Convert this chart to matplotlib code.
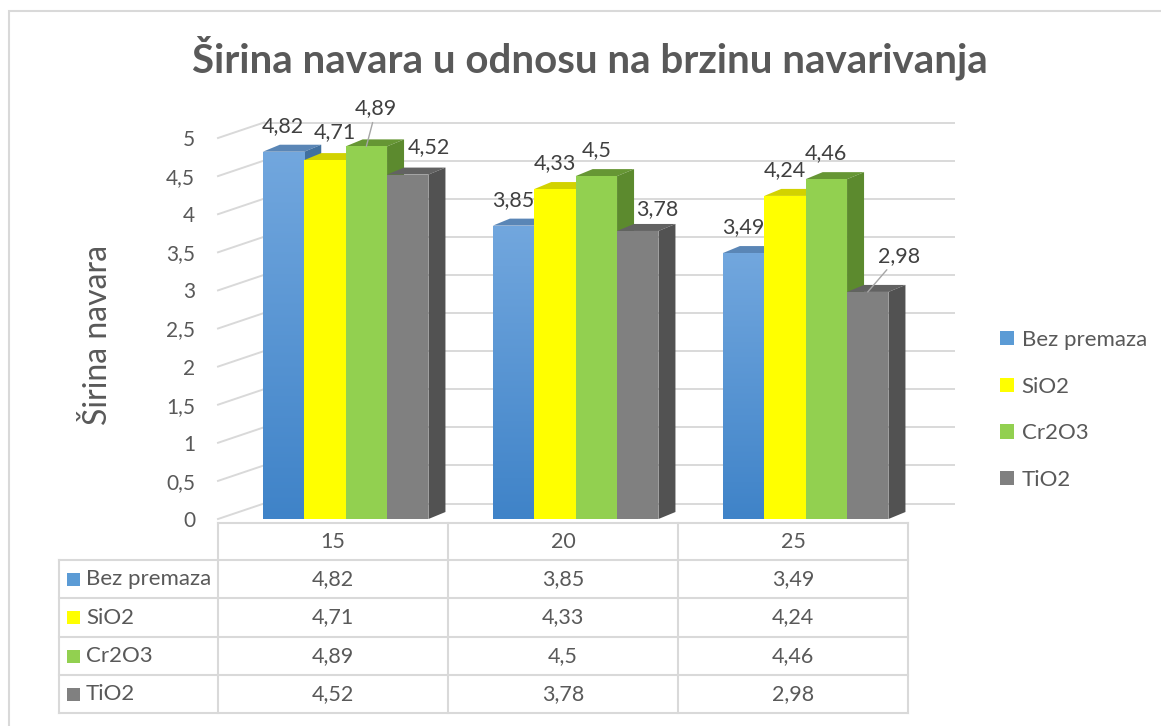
import numpy as np
import matplotlib.pyplot as plt
from matplotlib.patches import Polygon, Rectangle, Patch
from matplotlib import transforms

plt.rcParams['font.family'] = ['Lato', 'DejaVu Sans']

# podaci
brzine = ['15', '20', '25']
serije = ['Bez premaza', 'SiO2', 'Cr2O3', 'TiO2']
bez_premaza = [4.82, 3.85, 3.49]
sio2 = [4.71, 4.33, 4.24]
cr2o3 = [4.89, 4.50, 4.46]
tio2 = [4.52, 3.78, 2.98]
vrijednosti = [bez_premaza, sio2, cr2o3, tio2]
y_ticks = np.arange(0, 5.01, 0.5)

# boje: prednja strana, vrh, bok
boja = ['#5b9bd5', '#ffff00', '#92d050', '#808080']
boja_vrh = ['#5a86b6', '#d2d200', '#669634', '#626262']
boja_bok = ['#41709f', '#b8b800', '#5c8a2e', '#525252']
plava_gore, plava_dolje = '#72a7de', '#3f83c8'

TXT = '#595959'
LBL = '#404040'
GRID = '#d9d9d9'

# pomaci oznaka (px: desno, gore) u odnosu na sredinu vrha stupca
pomak_def = (0, 26)
pomak = {(0, 0): (-1, 26), (0, 1): (10, 28), (0, 2): (10, 38), (0, 3): (21, 27),
         (1, 3): (19, 22), (2, 3): (31, 36)}
s_linijom = {(0, 2), (2, 3)}

W, H = 1161, 726
fig = plt.figure(figsize=(W / 100, H / 100), dpi=100)


def fx(px):
    return px / W


def fy(py):
    return 1 - py / H


# okvir grafikona
fig.add_artist(Rectangle((fx(8.5), fy(740)), fx(1170) - fx(8.5), fy(11) - fy(740),
                         transform=fig.transFigure, fill=False, ec=GRID, lw=1.5))

ax = fig.add_axes([fx(218), fy(519), fx(908) - fx(218), fy(138) - fy(519)])
ax.set_xlim(-0.5, 2.5)
ax.set_ylim(0, 5)
for s in ax.spines.values():
    s.set_visible(False)
ax.set_xticks([])
ax.set_yticks(y_ticks, labels=[f'{t:g}'.replace('.', ',') for t in y_ticks])
ax.tick_params(axis='y', length=0, pad=16.5, labelsize=15, labelcolor=TXT)

# px -> jedinice podataka
pos = ax.get_position()
ux = 3 / (pos.width * W)
uy = 5 / (pos.height * H)
ddx, ddy = 17 * ux, 7 * uy      # dubina stupca
bdx, bdy = 46 * ux, 15.5 * uy   # dubina stražnjeg zida

# mreža na stražnjem i bočnom zidu
for v in y_ticks:
    ax.plot([-0.5 + bdx, 2.5 + bdx], [v + bdy] * 2, color=GRID, lw=1.4, zorder=1, clip_on=False)
    ax.plot([-0.5, -0.5 + bdx], [v, v + bdy], color=GRID, lw=1.4, zorder=1, clip_on=False)

x = np.arange(len(brzine))
w = 0.18
start = -0.305
grad = np.linspace(0, 1, 256).reshape(-1, 1)
cmap = plt.matplotlib.colors.LinearSegmentedColormap.from_list('pl', [plava_dolje, plava_gore])

for i, vals in enumerate(vrijednosti):
    left = x + start + i * w
    z = 10 + 2 * i
    bars = ax.bar(left, vals, width=w, align='edge', color=boja[i], lw=0, zorder=z + 1)
    for j, (b, v) in enumerate(zip(bars, vals)):
        x0, x1 = left[j], left[j] + w
        vrh = [(x0, v), (x1, v), (x1 + ddx, v + ddy), (x0 + ddx, v + ddy)]
        bok = [(x1, 0), (x1, v), (x1 + ddx, v + ddy), (x1 + ddx, ddy)]
        ax.add_patch(Polygon(vrh, closed=True, fc=boja_vrh[i], lw=0, zorder=z, clip_on=False))
        ax.add_patch(Polygon(bok, closed=True, fc=boja_bok[i], lw=0, zorder=z, clip_on=False))
        if i == 0:
            b.set_facecolor('none')
            im = ax.imshow(grad, extent=(x0, x1, 0, v), origin='lower', cmap=cmap,
                           aspect='auto', zorder=z + 1, interpolation='bilinear')
            im.set_clip_path(b)
        dx, dy = pomak.get((j, i), pomak_def)
        arrow = dict(arrowstyle='-', color='#a6a6a6', lw=1, shrinkA=1, shrinkB=0) if (j, i) in s_linijom else None
        ax.annotate(f'{v:g}'.replace('.', ','), xy=(x0 + w / 2, v), xytext=(dx, dy),
                    textcoords='offset pixels', ha='center', va='center', fontsize=15.5,
                    color=LBL, zorder=30, arrowprops=arrow, annotation_clip=False)

ax.set_xlim(-0.5, 2.5)
ax.set_ylim(0, 5)

# naslov i oznaka osi
fig.text(fx(590), fy(58), 'Širina navara u odnosu na brzinu navarivanja', ha='center', va='center',
         fontsize=29, fontweight='bold', color=TXT)
fig.text(fx(98), fy(335), 'Širina navara', rotation=90, ha='center', va='center', fontsize=23, color=TXT)

# tablica podataka
bt = transforms.blended_transform_factory(ax.transData, fig.transFigure)
redovi = [560, 598, 637, 675, 713]
lkw = dict(color=GRID, lw=1.5, clip_on=False)
ax.plot([-0.5, 2.5], [fy(523)] * 2, transform=bt, **lkw)
for r in redovi:
    fig.add_artist(plt.Line2D([fx(59), fx(908)], [fy(r)] * 2, **lkw))
for c in np.arange(-0.5, 2.6, 1):
    ax.plot([c, c], [fy(523), fy(713)], transform=bt, **lkw)
fig.add_artist(plt.Line2D([fx(59)] * 2, [fy(560), fy(713)], **lkw))

for j, b in enumerate(brzine):
    ax.text(x[j], fy(542), b, transform=bt, ha='center', va='center', fontsize=15.5, color=TXT)
for i, (ime, vals) in enumerate(zip(serije, vrijednosti)):
    yc = (redovi[i] + redovi[i + 1]) / 2
    fig.add_artist(Rectangle((fx(67), fy(yc + 6.5)), fx(13), 13 / H, transform=fig.transFigure,
                             fc=boja[i], lw=0))
    fig.text(fx(86), fy(yc), ime, ha='left', va='center', fontsize=16, color=TXT)
    for j, v in enumerate(vals):
        ax.text(x[j], fy(yc), f'{v:g}'.replace('.', ','), transform=bt, ha='center', va='center',
                fontsize=15.5, color=TXT)

# legenda
ruke = [Patch(fc=boja[i], lw=0, label=serije[i]) for i in range(len(serije))]
fig.legend(handles=ruke, loc='center left', bbox_to_anchor=(fx(1000), fy(410)), frameon=False,
           fontsize=16, labelcolor=TXT, handlelength=0.62, handleheight=0.62, handletextpad=0.35,
           labelspacing=1.2, borderpad=0, borderaxespad=0)

fig.savefig('out.png', dpi=100)
